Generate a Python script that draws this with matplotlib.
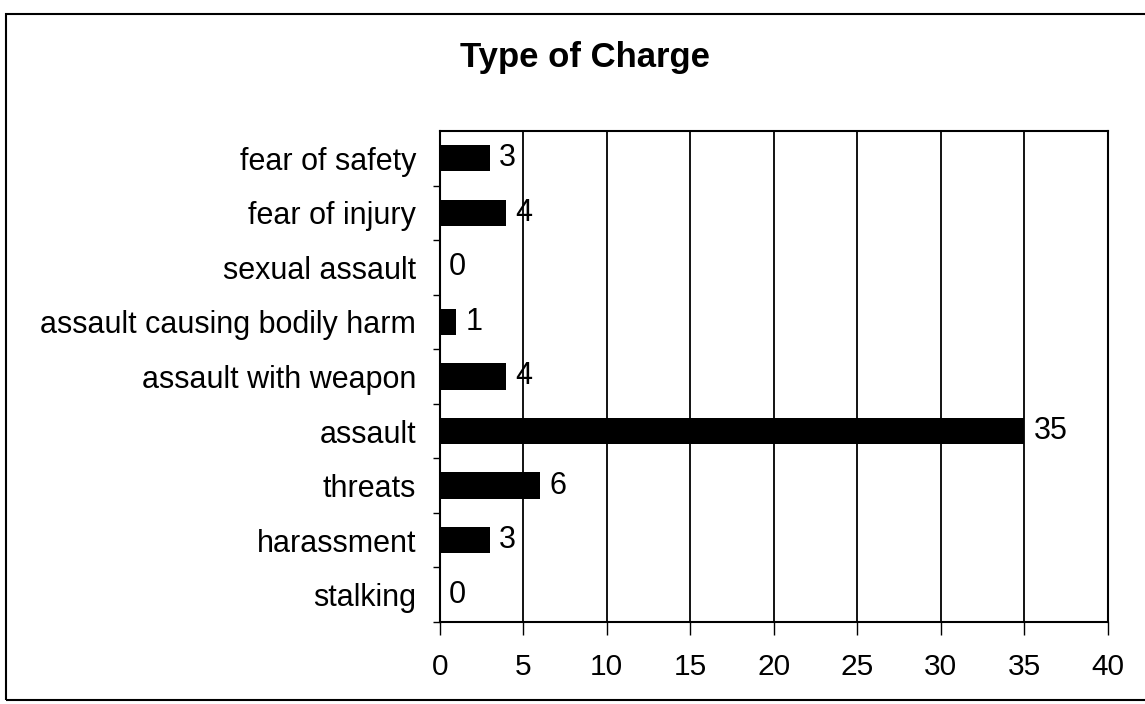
import matplotlib
matplotlib.use('Agg')
import matplotlib.pyplot as plt
import matplotlib.patches as mpatches
import numpy as np

plt.rcParams['font.family'] = ['Liberation Sans', 'DejaVu Sans']

categories = ['fear of safety', 'fear of injury', 'sexual assault',
              'assault causing bodily harm', 'assault with weapon', 'assault',
              'threats', 'harassment', 'stalking']
counts = [3, 4, 0, 1, 4, 35, 6, 3, 0]
xticks = [0, 5, 10, 15, 20, 25, 30, 35, 40]

fig = plt.figure(figsize=(11.45, 7.04), dpi=100, facecolor='white')
ax = fig.add_axes([0.384, 0.1165, 0.5835, 0.6975])

# frame round the whole chart
fig.patches.append(mpatches.Rectangle((0.005, 0.006), 1.2, 0.974, transform=fig.transFigure,
                                      fill=False, edgecolor='black', lw=1.5))

y = np.arange(len(categories))[::-1]
ax.barh(y, counts, height=0.48, color='black', zorder=3)
for yi, v in zip(y, counts):
    ax.text(v + 0.55, yi, str(v), va='center', ha='left', fontsize=22, zorder=4)

ax.set_xlim(0, 40)
ax.set_ylim(-0.5, len(categories) - 0.5)
ax.set_xticks(xticks)
ax.set_xticklabels([str(t) for t in xticks], fontsize=21.5)
ax.set_yticks(y)
ax.set_yticklabels(categories, fontsize=22)
ax.tick_params(axis='y', length=0, pad=17)
ax.set_yticks(np.arange(-0.5, len(categories) - 0.5, 1.0), minor=True)
ax.tick_params(axis='y', which='minor', length=5, width=1)
ax.tick_params(axis='x', length=9, width=1, pad=13)
ax.grid(axis='x', color='black', lw=1.3, zorder=1)
for sp in ax.spines.values():
    sp.set_color('black')
    sp.set_linewidth(1.5)

fig.text(0.5105, 0.919, 'Type of Charge', ha='center', va='center', fontsize=25, fontweight='bold')

plt.savefig('out.png', dpi=100, facecolor='white')
